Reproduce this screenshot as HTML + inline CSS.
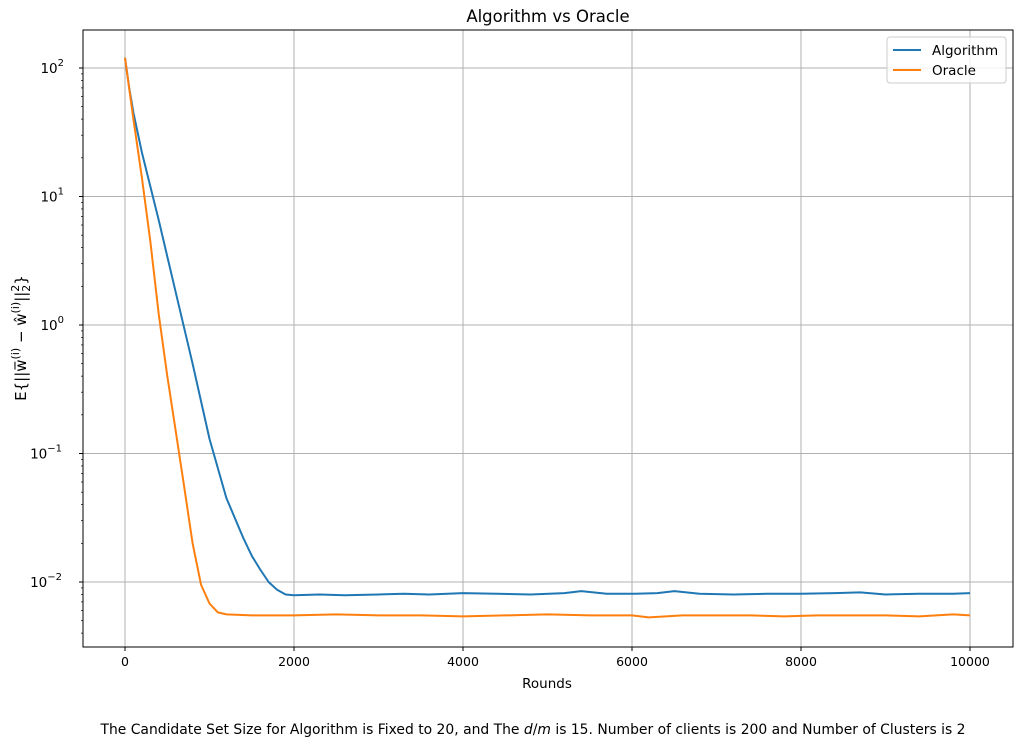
<!DOCTYPE html>
<html><head><meta charset="utf-8"><style>
body{margin:0;background:#fff;font-family:"Liberation Sans","DejaVu Sans",sans-serif}
svg text{font-family:"DejaVu Sans","Liberation Sans",sans-serif;fill:#000}
</style></head><body>
<svg id="chart" width="1022" height="748" viewBox="0 0 1022 748" xmlns="http://www.w3.org/2000/svg">
<rect width="1022" height="748" fill="#fff"/>
<g id="grid"></g>
<g id="series"></g>
<rect x="83" y="30" width="930" height="617" fill="none" stroke="#000" stroke-width="1"/>
<g id="axes"></g>
<text x="548" y="22" font-size="16.5" text-anchor="middle">Algorithm vs Oracle</text>
<text x="547" y="688" font-size="13.5" text-anchor="middle">Rounds</text>
<text transform="translate(26,338) rotate(-90)" font-size="15" text-anchor="middle">E{||w̅<tspan font-size="11" dy="-7">(i)</tspan><tspan dy="7"> − ŵ</tspan><tspan font-size="11" dy="-7">(i)</tspan><tspan dy="7">||</tspan><tspan font-size="11" dy="-7">2</tspan><tspan font-size="11" dx="-7" dy="11">2</tspan><tspan dy="-4">}</tspan></text>
<text x="533" y="734" font-size="13.9" text-anchor="middle">The Candidate Set Size for Algorithm is Fixed to 20, and The <tspan font-style="italic">d</tspan>/<tspan font-style="italic">m</tspan> is 15. Number of clients is 200 and Number of Clusters is 2</text>
<g>
<rect x="887" y="37" width="119" height="46" rx="3" fill="#fff" fill-opacity="0.8" stroke="#ccc"/>
<line x1="893" y1="50" x2="921" y2="50" stroke="#1f77b4" stroke-width="2"/>
<text x="932" y="55" font-size="13.5">Algorithm</text>
<line x1="893" y1="70" x2="921" y2="70" stroke="#ff7f0e" stroke-width="2"/>
<text x="932" y="75" font-size="13.5">Oracle</text>
</g>
</svg>
<script>
const algRounds=[0,50,100,200,300,400,600,800,1000,1200,1400,1500,1600,1700,1800,1900,2000,2300,2600,3000,3300,3600,4000,4400,4800,5200,5400,5700,6000,6300,6500,6800,7200,7600,8000,8400,8700,9000,9400,9800,10000];
const algValues=[120,70,45,22,12,6.5,1.8,0.5,0.13,0.045,0.022,0.016,0.0125,0.0100,0.0087,0.0080,0.0079,0.0080,0.0079,0.0080,0.0081,0.0080,0.0082,0.0081,0.0080,0.0082,0.0085,0.0081,0.0081,0.0082,0.0085,0.0081,0.0080,0.0081,0.0081,0.0082,0.0083,0.0080,0.0081,0.0081,0.0082];
const oraRounds=[0,100,200,300,400,500,600,700,800,900,1000,1100,1200,1500,2000,2500,3000,3500,4000,4500,5000,5500,6000,6200,6600,7000,7400,7800,8200,8600,9000,9400,9800,10000];
const oraValues=[120,40,14,4.5,1.2,0.4,0.15,0.055,0.02,0.0095,0.0068,0.0058,0.0056,0.0055,0.0055,0.0056,0.0055,0.0055,0.0054,0.0055,0.0056,0.0055,0.0055,0.0053,0.0055,0.0055,0.0055,0.0054,0.0055,0.0055,0.0055,0.0054,0.0056,0.0055];
const xTicks=[0,2000,4000,6000,8000,10000];
const yExps=[-2,-1,0,1,2];
const NS='http://www.w3.org/2000/svg';
const X=v=>125+v*0.0845;
const Y=v=>582-(Math.log10(v)+2)*128.5;
function mk(t,a,p){const e=document.createElementNS(NS,t);for(const k in a)e.setAttribute(k,a[k]);p.appendChild(e);return e;}
const grid=document.getElementById('grid'),axes=document.getElementById('axes'),ser=document.getElementById('series');
xTicks.forEach(t=>{const x=X(t);
const g=mk('line',{x1:x,y1:30,x2:x,y2:647,stroke:'#b0b0b0','stroke-width':1},grid);


mk('line',{x1:x,y1:647,x2:x,y2:651,stroke:'#000'},axes);
const tx=mk('text',{x:x,y:666,'font-size':12.5,'text-anchor':'middle'},axes);tx.textContent=t;

});
yExps.forEach(e=>{const y=Y(Math.pow(10,e));
const g=mk('line',{x1:83,y1:y,x2:1013,y2:y,stroke:'#b0b0b0','stroke-width':1},grid);


mk('line',{x1:79,y1:y,x2:83,y2:y,stroke:'#000'},axes);
const tx=mk('text',{x:e<0?62:64,y:y+5,'font-size':13.5,'text-anchor':'end'},axes);tx.textContent='10';


const sp=mk('tspan',{'font-size':10,dy:-7},tx);sp.textContent=e<0?'−'+(-e):e;});
for(let e=-3;e<=2;e++)for(let m=2;m<=9;m++){const v=m*Math.pow(10,e);const y=Y(v);if(y<30||y>647)continue;mk('line',{x1:81,y1:y,x2:83,y2:y,stroke:'#000','stroke-width':0.7},axes);}
function path(r,v,c,name){const d=r.map((t,i)=>(i?'L':'M')+X(t).toFixed(1)+','+Y(v[i]).toFixed(1)).join('');
const p=mk('path',{d:d,fill:'none',stroke:c,'stroke-width':2,'stroke-linejoin':'round'},ser);

}
path(algRounds,algValues,'#1f77b4','algorithm-line');
path(oraRounds,oraValues,'#ff7f0e','oracle-line');
</script>
</body></html>
